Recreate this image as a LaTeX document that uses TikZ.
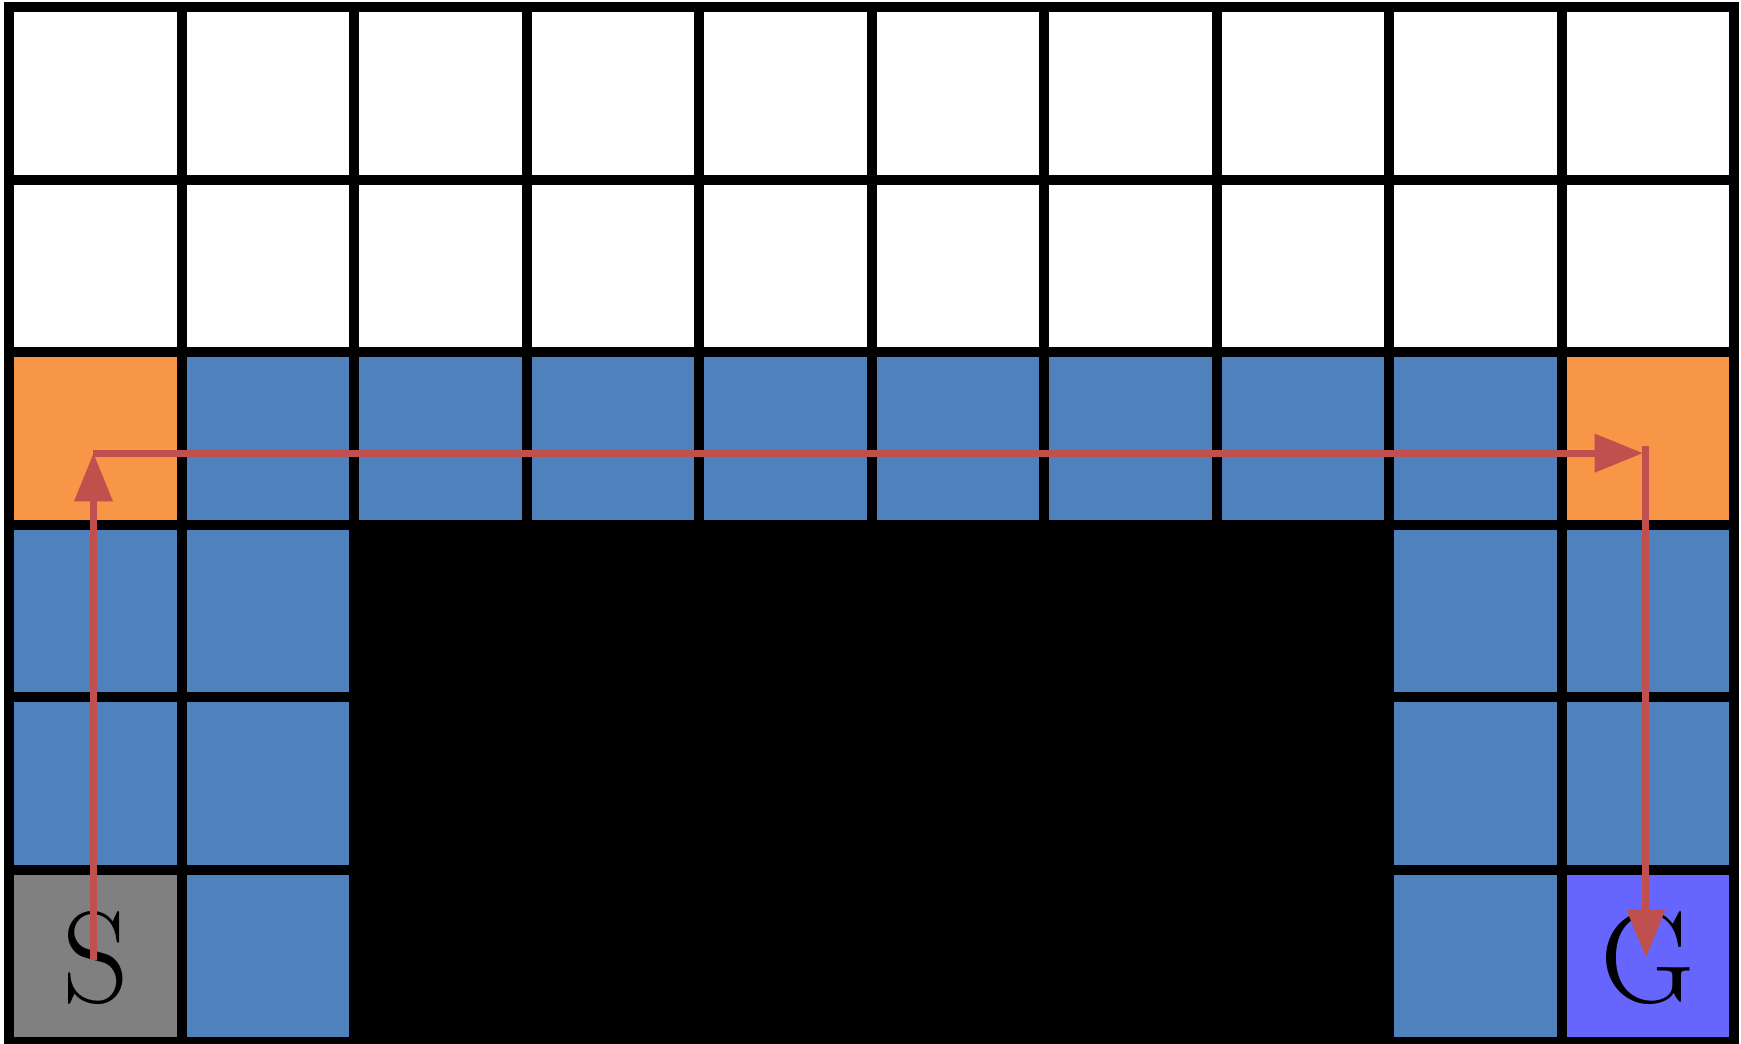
\documentclass[tikz,border=0pt]{standalone}
\usetikzlibrary{arrows.meta}
\definecolor{corner}{RGB}{247,150,70}
\definecolor{lane}{RGB}{79,129,189}
\definecolor{startcell}{RGB}{128,128,128}
\definecolor{goalcell}{RGB}{102,102,255}
\definecolor{route}{RGB}{192,80,77}
\tikzset{
  wall/.style={fill=black},
  gridline/.style={draw=black, line width=1.65pt},
  move/.style={draw=route, line width=1.15pt, -{Triangle[length=2.8mm, width=2.15mm]}},
  letter/.style={inner sep=0pt, font=\fontsize{21.5}{24}\selectfont}
}
\begin{document}
\begin{tikzpicture}
    % frame: 10 x 6 cells of 1cm
    \fill[white] (-0.055,-0.009) rectangle (10.038,6.043);
    \useasboundingbox (-0.055,-0.009) rectangle (10.038,6.043);

    % cells
    \fill[lane] (0,0) rectangle (10,4);
    \fill[wall] (2,0) rectangle (8,3);
    \fill[corner] (0,3) rectangle (1,4);
    \fill[corner] (9,3) rectangle (10,4);
    \fill[startcell] (0,0) rectangle (1,1);
    \fill[goalcell] (9,0) rectangle (10,1);

    \draw[gridline] (0,0) grid (10,6);
    \draw[gridline] (0,0) rectangle (10,6);

    \node[letter] (S) at (0.5,0.49) {S};
    \node[letter] (G) at (9.5,0.49) {G};

    % route S -> G
    \coordinate (up0) at (0.487,0.48);
    \coordinate (up1) at (0.487,3.416);
    \coordinate (right1) at (9.47,3.416);
    \coordinate (down0) at (9.487,3.46);
    \coordinate (down1) at (9.487,0.49);
    \draw[move] (up0) -- (up1);
    \draw[move] (up1) -- (right1);
    \draw[move] (down0) -- (down1);
\end{tikzpicture}
\end{document}
